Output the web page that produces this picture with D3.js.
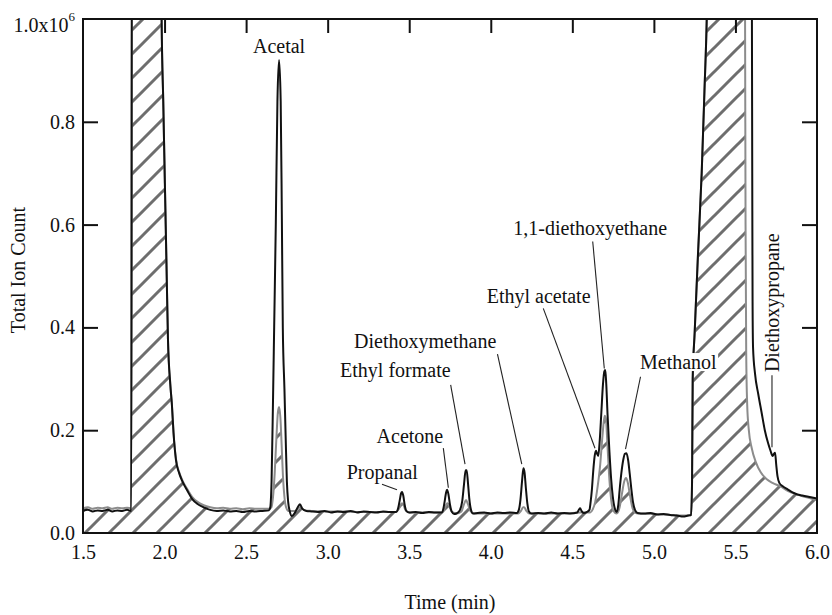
<!DOCTYPE html>
<html><head><meta charset="utf-8">
<script src="https://cdn.jsdelivr.net/npm/d3@7"></script>
<style>
body{margin:0;background:#fff}
text{font-family:"Liberation Serif","Times New Roman",serif;fill:#111}
</style>
</head><body>
<svg id="chart" width="832" height="615"></svg>
<script>
// ---------- data ----------
const xTickValues = [1.5,2.0,2.5,3.0,3.5,4.0,4.5,5.0,5.5,6.0];
const xTickLabels = ["1.5","2.0","2.5","3.0","3.5","4.0","4.5","5.0","5.5","6.0"];
const yTickValues = [0.0,0.2,0.4,0.6,0.8,1.0];
const yTickLabels = ["0.0","0.2","0.4","0.6","0.8","1.0x10"];
const yExponent = "6";
const xTitle = "Time (min)";
const yTitle = "Total Ion Count";

// [time (min), total ion count (x10^6)] - black trace
const blackTrace = [
[1.50,0.043],[1.53,0.045],[1.56,0.042],[1.59,0.044],[1.62,0.043],[1.65,0.045],[1.68,0.042],[1.71,0.044],[1.74,0.043],[1.77,0.045],[1.796,0.043],[1.800,1.30],
[1.975,1.30],[1.982,1.0],[1.992,0.84],[2.002,0.68],[2.012,0.52],[2.021,0.376],[2.035,0.29],[2.045,0.25],[2.055,0.195],[2.07,0.142],[2.09,0.116],[2.11,0.100],[2.14,0.082],[2.17,0.066],[2.20,0.057],[2.24,0.050],[2.28,0.045],[2.32,0.043],[2.36,0.044],[2.40,0.042],[2.44,0.043],[2.48,0.041],[2.52,0.043],[2.56,0.042],[2.60,0.043],[2.64,0.044],
[2.648,0.05],[2.656,0.10],[2.665,0.26],[2.672,0.40],[2.682,0.60],[2.692,0.84],[2.702,0.92],[2.712,0.84],[2.719,0.62],[2.725,0.40],[2.735,0.28],[2.743,0.18],[2.750,0.10],[2.758,0.06],[2.768,0.042],[2.78,0.033],[2.80,0.040],[2.82,0.052],[2.83,0.056],[2.845,0.047],[2.87,0.043],
[2.90,0.042],[2.94,0.041],[2.98,0.043],[3.02,0.040],[3.06,0.042],[3.10,0.041],[3.14,0.043],[3.18,0.040],[3.22,0.042],[3.26,0.041],[3.30,0.040],[3.34,0.042],[3.38,0.041],[3.42,0.041],
[3.432,0.048],[3.442,0.064],[3.450,0.077],[3.456,0.080],[3.464,0.072],[3.472,0.055],[3.482,0.043],[3.50,0.040],[3.54,0.041],[3.58,0.039],[3.62,0.041],[3.66,0.040],[3.70,0.040],
[3.710,0.048],[3.718,0.063],[3.726,0.079],[3.732,0.084],[3.740,0.076],[3.750,0.055],[3.760,0.042],[3.775,0.037],[3.79,0.038],[3.81,0.044],[3.825,0.062],[3.836,0.095],[3.846,0.122],[3.852,0.122],[3.860,0.098],[3.868,0.068],[3.878,0.046],[3.89,0.038],[3.92,0.039],[3.96,0.040],[4.00,0.038],[4.04,0.040],[4.08,0.039],[4.12,0.040],[4.16,0.039],
[4.172,0.045],[4.182,0.065],[4.192,0.102],[4.200,0.126],[4.207,0.118],[4.215,0.088],[4.224,0.058],[4.234,0.042],[4.25,0.038],[4.29,0.039],[4.33,0.038],[4.37,0.040],[4.41,0.038],[4.45,0.039],[4.49,0.038],[4.53,0.040],[4.540,0.045],[4.548,0.048],[4.556,0.043],[4.57,0.039],[4.59,0.041],[4.605,0.045],
[4.612,0.060],[4.620,0.085],[4.628,0.120],[4.637,0.150],[4.645,0.160],[4.652,0.154],[4.659,0.150],[4.668,0.180],[4.678,0.235],[4.688,0.290],[4.696,0.314],[4.702,0.317],[4.708,0.290],[4.716,0.230],[4.727,0.161],[4.738,0.105],[4.748,0.071],[4.760,0.048],[4.772,0.041],
[4.782,0.055],[4.790,0.084],[4.800,0.115],[4.812,0.142],[4.822,0.154],[4.832,0.155],[4.842,0.142],[4.852,0.115],[4.862,0.085],[4.872,0.060],[4.884,0.045],[4.90,0.039],[4.94,0.038],[4.98,0.039],[5.02,0.036],[5.06,0.037],[5.10,0.035],[5.14,0.034],[5.18,0.032],[5.21,0.034],[5.228,0.035],
[5.234,0.10],[5.238,0.30],[5.25,0.39],[5.27,0.54],[5.293,0.70],[5.31,0.86],[5.324,1.0],[5.34,1.30],[5.595,1.30],[5.601,1.0],[5.603,0.70],[5.605,0.45],[5.608,0.36],[5.62,0.31],[5.64,0.27],[5.66,0.235],[5.68,0.200],[5.70,0.175],[5.715,0.160],[5.728,0.150],[5.736,0.154],[5.743,0.156],[5.750,0.133],[5.758,0.110],[5.770,0.097],[5.79,0.091],[5.82,0.085],[5.85,0.079],[5.88,0.075],[5.91,0.073],[5.94,0.071],[5.97,0.069],[6.00,0.067]
];

// gray trace (hatched underneath)
const grayTrace = [
[1.50,0.048],[1.53,0.050],[1.56,0.047],[1.59,0.049],[1.62,0.048],[1.65,0.050],[1.68,0.047],[1.71,0.049],[1.74,0.048],[1.77,0.049],[1.796,0.048],[1.800,1.30],
[1.975,1.30],[1.982,1.0],[1.992,0.84],[2.002,0.68],[2.012,0.52],[2.021,0.376],[2.035,0.29],[2.045,0.25],[2.055,0.195],[2.07,0.144],[2.09,0.118],[2.11,0.102],[2.14,0.085],[2.17,0.070],[2.20,0.061],[2.24,0.054],[2.28,0.050],[2.32,0.048],[2.36,0.049],[2.40,0.047],[2.44,0.048],[2.48,0.046],[2.52,0.048],[2.56,0.047],[2.60,0.047],[2.64,0.047],
[2.655,0.050],[2.665,0.070],[2.675,0.115],[2.685,0.180],[2.695,0.235],[2.702,0.245],[2.710,0.225],[2.718,0.170],[2.726,0.110],[2.735,0.070],[2.745,0.050],[2.76,0.043],[2.80,0.043],[2.83,0.050],[2.86,0.044],
[2.90,0.043],[3.00,0.042],[3.10,0.042],[3.20,0.041],[3.30,0.041],[3.42,0.041],
[3.435,0.046],[3.448,0.055],[3.456,0.058],[3.466,0.054],[3.478,0.044],[3.50,0.040],[3.60,0.040],[3.70,0.040],
[3.715,0.046],[3.728,0.056],[3.735,0.058],[3.748,0.050],[3.762,0.041],[3.79,0.038],[3.82,0.042],[3.835,0.055],[3.848,0.064],[3.860,0.056],[3.875,0.043],[3.90,0.038],[4.00,0.038],[4.10,0.038],[4.17,0.038],
[4.185,0.043],[4.198,0.050],[4.205,0.050],[4.218,0.043],[4.235,0.038],[4.35,0.038],[4.45,0.038],[4.55,0.040],[4.61,0.040],
[4.625,0.046],[4.640,0.060],[4.655,0.090],[4.670,0.130],[4.685,0.190],[4.698,0.228],[4.706,0.222],[4.714,0.180],[4.725,0.115],[4.738,0.065],[4.752,0.043],[4.772,0.038],
[4.790,0.050],[4.805,0.078],[4.818,0.100],[4.829,0.107],[4.840,0.098],[4.852,0.076],[4.866,0.052],[4.880,0.041],[4.90,0.038],[5.00,0.037],[5.10,0.035],[5.20,0.034],[5.228,0.035],
[5.234,0.10],[5.238,0.30],[5.25,0.39],[5.27,0.54],[5.293,0.70],[5.31,0.86],[5.324,1.0],[5.34,1.30],[5.553,1.30],[5.559,1.0],[5.562,0.60],[5.566,0.35],[5.572,0.25],[5.582,0.20],[5.600,0.165],[5.625,0.138],[5.655,0.118],[5.690,0.105],[5.730,0.097],[5.773,0.091],[5.82,0.082],[5.865,0.076],[5.93,0.070],[6.00,0.064]
];

// peak annotations in data units: text anchor (t,v), optional leader line
const annotations = [
 {name:"Acetal", t:2.702, v:0.934, anchor:"middle"},
 {name:"Propanal", t:3.117, v:0.105, anchor:"start", line:[[3.333,0.095],[3.425,0.084]]},
 {name:"Acetone", t:3.300, v:0.176, anchor:"start", line:[[3.709,0.165],[3.740,0.088]]},
 {name:"Ethyl formate", t:3.076, v:0.303, anchor:"start", line:[[3.754,0.288],[3.842,0.134]]},
 {name:"Diethoxymethane", t:3.162, v:0.359, anchor:"start", line:[[4.041,0.348],[4.190,0.134]]},
 {name:"Ethyl acetate", t:3.975, v:0.447, anchor:"start", line:[[4.322,0.437],[4.639,0.165]]},
 {name:"1,1-diethoxyethane", t:4.138, v:0.580, anchor:"start", line:[[4.625,0.567],[4.696,0.320]]},
 {name:"Methanol", t:4.915, v:0.319, anchor:"start", opaque:true, line:[[4.918,0.304],[4.826,0.163]]},
 {name:"Diethoxypropane", t:5.767, v:0.313, anchor:"start", rotate:true, line:[[5.724,0.307],[5.724,0.167]]}
];

// ---------- layout ----------
const svg = d3.select("#chart");
const m = {left:83, right:817, top:19, bottom:533};
const x = d3.scaleLinear().domain([1.5,6.0]).range([m.left,m.right]);
const y = d3.scaleLinear().domain([0,1]).range([m.bottom,m.top]);
const FS = 20;

const defs = svg.append("defs");
defs.append("clipPath").attr("id","plotclip").append("rect")
  .attr("x",m.left).attr("y",m.top).attr("width",m.right-m.left).attr("height",m.bottom-m.top);
const pat = defs.append("pattern").attr("id","hatch").attr("patternUnits","userSpaceOnUse")
  .attr("x",18).attr("y",0).attr("width",24).attr("height",24);
pat.append("path").attr("d","M-6,6L6,-6M0,24L24,0M18,30L30,18")
  .attr("stroke","#6e6e6e").attr("stroke-width",3).attr("fill","none");

const plot = svg.append("g").attr("clip-path","url(#plotclip)");

const area = d3.area().x(d=>x(d[0])).y0(y(0)).y1(d=>y(d[1])).curve(d3.curveMonotoneX);
const line = d3.line().x(d=>x(d[0])).y(d=>y(d[1])).curve(d3.curveMonotoneX);

plot.append("path").datum(grayTrace).attr("d",area).attr("fill","url(#hatch)");
plot.append("path").datum(grayTrace).attr("d",line).attr("fill","none")
  .attr("stroke","#8c8c8c").attr("stroke-width",2);
plot.append("path").datum(blackTrace).attr("d",line).attr("fill","none")
  .attr("stroke","#111").attr("stroke-width",2);

// annotations
const ann = svg.append("g");
annotations.forEach(a=>{
  if(a.line){
    ann.append("line").attr("x1",x(a.line[0][0])).attr("y1",y(a.line[0][1]))
      .attr("x2",x(a.line[1][0])).attr("y2",y(a.line[1][1]))
      .attr("stroke","#222").attr("stroke-width",1.1);
  }
  const bg = a.opaque ? ann.append("rect").attr("fill","#fff") : null;
  const t = ann.append("text").text(a.name).attr("font-size",FS).attr("text-anchor",a.anchor);
  if(a.rotate){
    t.attr("transform",`translate(${x(a.t)},${y(a.v)}) rotate(-90)`);
  } else {
    t.attr("x",x(a.t)).attr("y",y(a.v));
  }
  if(bg){
    const b = t.node().getBBox();
    bg.attr("x",b.x).attr("y",b.y+2).attr("width",b.width+1).attr("height",b.height-4);
  }
});

// axes
const gL = svg.append("g").attr("transform",`translate(${m.left},0)`)
  .call(d3.axisLeft(y).tickValues(yTickValues).tickFormat((d,i)=>yTickLabels[i]).tickSizeInner(-15).tickSizeOuter(0).tickPadding(8));
const gR = svg.append("g").attr("transform",`translate(${m.right},0)`)
  .call(d3.axisRight(y).tickValues(yTickValues.slice(1,-1)).tickFormat("").tickSizeInner(-15).tickSizeOuter(0));
const gT = svg.append("g").attr("transform",`translate(0,${m.top})`)
  .call(d3.axisTop(x).tickValues(xTickValues.slice(1,-1)).tickFormat("").tickSizeInner(-14).tickSizeOuter(0));
const gB = svg.append("g").attr("transform",`translate(0,${m.bottom})`)
  .call(d3.axisBottom(x).tickValues(xTickValues).tickFormat((d,i)=>xTickLabels[i]).tickSize(0).tickPadding(12));

[gL,gR,gT,gB].forEach(g=>{
  g.select(".domain").remove();
  g.selectAll(".tick line").attr("stroke","#111").attr("stroke-width",2);
  g.selectAll("text").attr("font-size",FS).attr("font-family","'Liberation Serif','Times New Roman',serif").attr("fill","#111");
});
gL.selectAll(".tick").filter(d=>d===0||d===1).select("line").remove();
gL.selectAll(".tick").filter(d=>d===1).select("text").attr("dy","0.62em")
  .append("tspan").text(yExponent).attr("font-size",13).attr("dy","-0.85em");

// frame
svg.append("rect").attr("x",m.left).attr("y",m.top).attr("width",m.right-m.left).attr("height",m.bottom-m.top)
  .attr("fill","none").attr("stroke","#111").attr("stroke-width",2);

// titles
svg.append("text").text(xTitle).attr("x",(m.left+m.right)/2).attr("y",609)
  .attr("text-anchor","middle").attr("font-size",FS);
svg.append("text").text(yTitle).attr("transform",`translate(25,${(m.top+m.bottom)/2-6}) rotate(-90)`)
  .attr("text-anchor","middle").attr("font-size",FS);
</script>
</body></html>
